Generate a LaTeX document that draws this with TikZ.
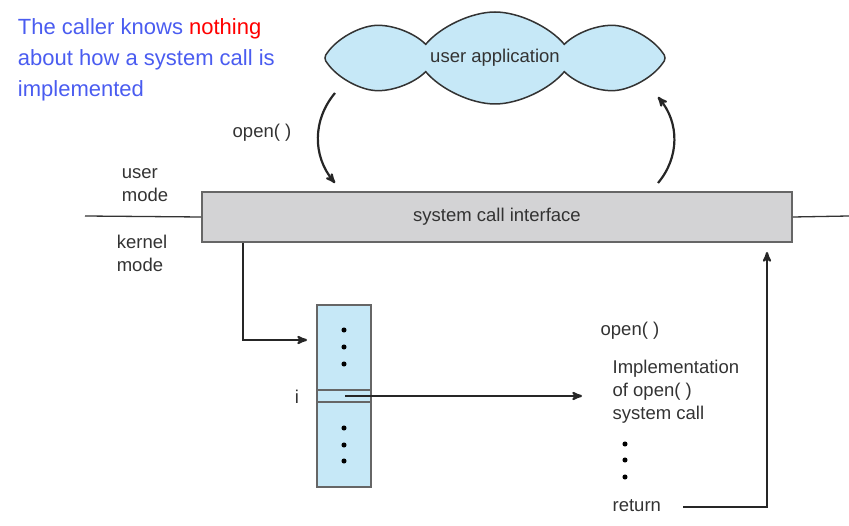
\documentclass[tikz,border=0pt]{standalone}
\usepackage{fontspec}
\setmainfont{Liberation Sans}
\usetikzlibrary{arrows,shapes.symbols}
\definecolor{cloudblue}{HTML}{C6E8F7}
\definecolor{bargray}{HTML}{D3D3D5}
\definecolor{noteblue}{HTML}{4A5CF0}

\begin{document}
\begin{tikzpicture}[x=1pt,y=-1pt,>=stealth',line width=1.3pt,
                    every node/.style={font=\fontsize{18.5}{23}\selectfont,text=black!80}]
  \tikzstyle{table}=[fill=cloudblue,draw=black!60,line width=1.3pt]
  \tikzstyle{blip}=[circle,fill=black,inner sep=1.8pt]
  \tikzstyle{flow}=[->,line width=2.2pt,black!85]

  \useasboundingbox (0,0) rectangle (849,526);

  \node[align=left,anchor=north west,text=noteblue,font=\fontsize{22}{31}\selectfont] (note) at (14,15)
    {The caller knows \textcolor{red}{nothing}\\about how a system call is\\implemented};

  \node[cloud,cloud puffs=8,cloud puff arc=100,aspect=4,fill=cloudblue,draw=black!80,line width=1.5pt,
        minimum width=340,minimum height=92,inner sep=0pt] (app) at (495,58) {user application};

  \node[fill=bargray,draw=black!60,line width=1.6pt,minimum width=590,minimum height=50,inner sep=0pt] (sci) at (497,217) {system call interface};
  \coordinate (ul) at (85,216);
  \coordinate (ur) at (849,216);
  \draw[black!80] (ul) -- (sci.west);
  \draw[black!80] (sci.east) -- (ur);

  \node[align=left] (umode) at (145,185) {user\\mode};
  \node[align=left] (kmode) at (142,253) {kernel\\mode};
  \node (callopen) at (262,133) {open( )};

  \coordinate (c1) at (335,93);
  \coordinate (c2) at (335,183);
  \coordinate (c3) at (658,183);
  \coordinate (c4) at (658,97);
  \draw[flow] (c1) to[bend right=40] (c2);
  \draw[flow] (c3) to[bend right=40] (c4);

  % table of system calls
  \node[table,minimum width=54,minimum height=182,inner sep=0pt] (tab) at (344,396) {};
  \node[table,minimum width=54,minimum height=12,inner sep=0pt] (slot) at (344,396) {};
  \foreach \y in {330,347,364,428,445,461}
    \node[blip] at (344,\y) {};
  \node (idx) at (297,397) {i};

  \coordinate (k1) at (243,340);
  \coordinate (t1) at (307,340);
  \draw[flow] (sci.south west -| k1) -- (k1) -- (t1);
  \coordinate (s1) at (345,396);
  \coordinate (s2) at (582,396);
  \draw[flow] (s1) -- (s2);

  % implementation
  \node[anchor=west,inner sep=0pt] (iopen) at (600,331) {open( )};
  \node[anchor=north west,align=left,inner sep=0pt] (impl) at (612,359) {Implementation\\of open( )\\system call};
  \foreach \y in {444,460,477}
    \node[blip] at (625,\y) {};
  \node[anchor=west,inner sep=0pt] (ret) at (612,506) {return};
  \coordinate (r0) at (683,507);
  \coordinate (r1) at (767,507);
  \coordinate (r2) at (767,252);
  \draw[flow] (r0) -- (r1) -- (r2);
\end{tikzpicture}
\end{document}
